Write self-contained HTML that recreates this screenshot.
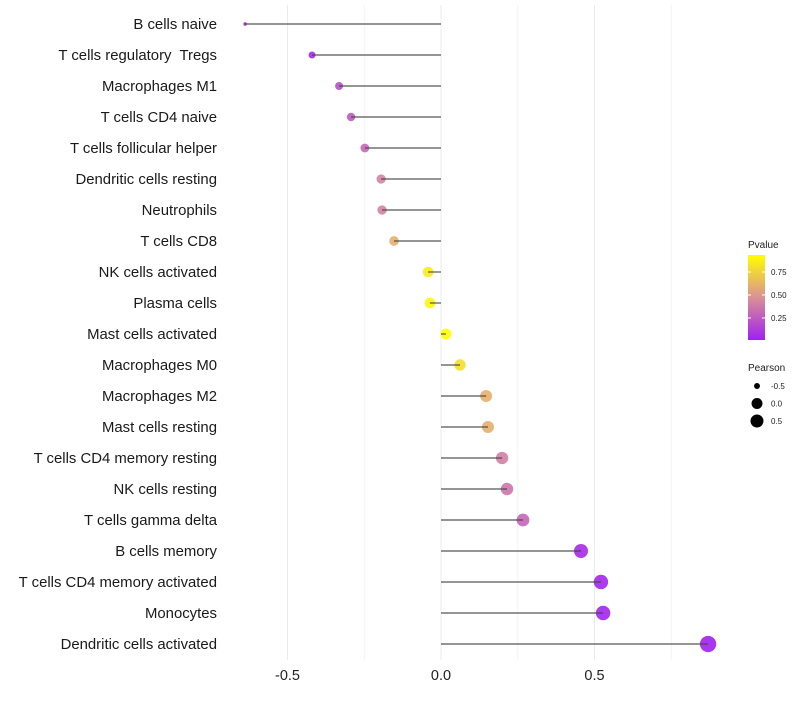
<!DOCTYPE html>
<html><head><meta charset="utf-8"><style>
body{margin:0;background:#fff;font-family:"Liberation Sans",sans-serif}
text{white-space:pre}
</style></head><body>
<svg id="chart" width="800" height="700"></svg>
<script>
const categories=["B cells naive","T cells regulatory  Tregs","Macrophages M1","T cells CD4 naive","T cells follicular helper","Dendritic cells resting","Neutrophils","T cells CD8","NK cells activated","Plasma cells","Mast cells activated","Macrophages M0","Macrophages M2","Mast cells resting","T cells CD4 memory resting","NK cells resting","T cells gamma delta","B cells memory","T cells CD4 memory activated","Monocytes","Dendritic cells activated"];
const pearson=[-0.638,-0.42,-0.332,-0.293,-0.248,-0.195,-0.192,-0.153,-0.042,-0.036,0.016,0.062,0.147,0.153,0.199,0.215,0.267,0.456,0.521,0.528,0.87];
const pvalues=[0.01,0.05,0.2,0.25,0.3,0.42,0.42,0.6,0.85,0.9,0.95,0.8,0.6,0.6,0.4,0.35,0.3,0.05,0.03,0.03,0.005];
const xTicks=[-0.5,0,0.5];
const xTickLabels=["-0.5","0.0","0.5"];
const legendP=[0.75,0.5,0.25];
const legendS=[-0.5,0,0.5];

const NS="http://www.w3.org/2000/svg";
const svg=document.getElementById('chart');
const X=v=>441+v*307;
const Y=i=>24+i*31;
const R=p=>Math.sqrt(Math.max(3+(p+0.64)*42,1));
function lerp(a,b,t){return a.map((v,i)=>Math.round(v+(b[i]-v)*t));}
function col(p){const t=Math.min(Math.max((p-0.01)/0.925,0),1);
 const c0=[160,32,240],c1=[218,145,150],c2=[255,255,0];
 const c=t<0.5?lerp(c0,c1,t*2):lerp(c1,c2,(t-0.5)*2);return `rgb(${c})`;}
function el(t,a,p){const e=document.createElementNS(NS,t);for(const k in a)e.setAttribute(k,a[k]);(p||svg).appendChild(e);return e;}

[-0.25,0.25,0.75].forEach(v=>{const g=el('line',{x1:X(v),x2:X(v),y1:5,y2:660,stroke:'#f3f3f3','stroke-width':1});

});
xTicks.forEach((v,i)=>{const g=el('line',{x1:X(v),x2:X(v),y1:5,y2:660,stroke:'#ebebeb','stroke-width':1});


const t=el('text',{x:X(v),y:680,'text-anchor':'middle','font-size':14.5,fill:'#222'});t.textContent=xTickLabels[i];

});

categories.forEach((c,i)=>{
 const t=el('text',{x:217,y:Y(i)+5,'text-anchor':'end','font-size':14.9,fill:'#1a1a1a'});t.textContent=c;
 
 
 const d=el('circle',{cx:X(pearson[i]),cy:Y(i),r:R(pearson[i]),fill:col(pvalues[i]),'fill-opacity':0.9});
 
 
 const l=el('line',{x1:X(0),x2:X(pearson[i]),y1:Y(i),y2:Y(i),stroke:'#444','stroke-width':1.2,'stroke-opacity':0.9});
 
 
});

let t=el('text',{x:748,y:248,'font-size':10,fill:'#222'});t.textContent='Pvalue';


const defs=el('defs',{});const gr=el('linearGradient',{id:'pg',x1:0,y1:1,x2:0,y2:0},defs);
for(let k=0;k<=10;k++){el('stop',{offset:k/10,'stop-color':col(0.01+0.925*k/10)},gr);}
const bar=el('rect',{x:748,y:255,width:17,height:85,fill:'url(#pg)'});


const PY=p=>340-(p-0.01)/0.925*85;
legendP.forEach(p=>{el('line',{x1:748,x2:751,y1:PY(p),y2:PY(p),stroke:'#fff'});el('line',{x1:762,x2:765,y1:PY(p),y2:PY(p),stroke:'#fff'});
 const lt=el('text',{x:771,y:PY(p)+3,'font-size':8,fill:'#222'});lt.textContent=p.toFixed(2);
 
 });
t=el('text',{x:748,y:371,'font-size':10,fill:'#222'});t.textContent='Pearson';


legendS.forEach((s,i)=>{const c=el('circle',{cx:757,cy:386+i*17.5,r:Math.min(R(s),6.5),fill:'#000'});
 
 
 const lt=el('text',{x:771,y:389+i*17.5,'font-size':8,fill:'#222'});lt.textContent=s.toFixed(1);
 
 });
</script>
</body></html>
